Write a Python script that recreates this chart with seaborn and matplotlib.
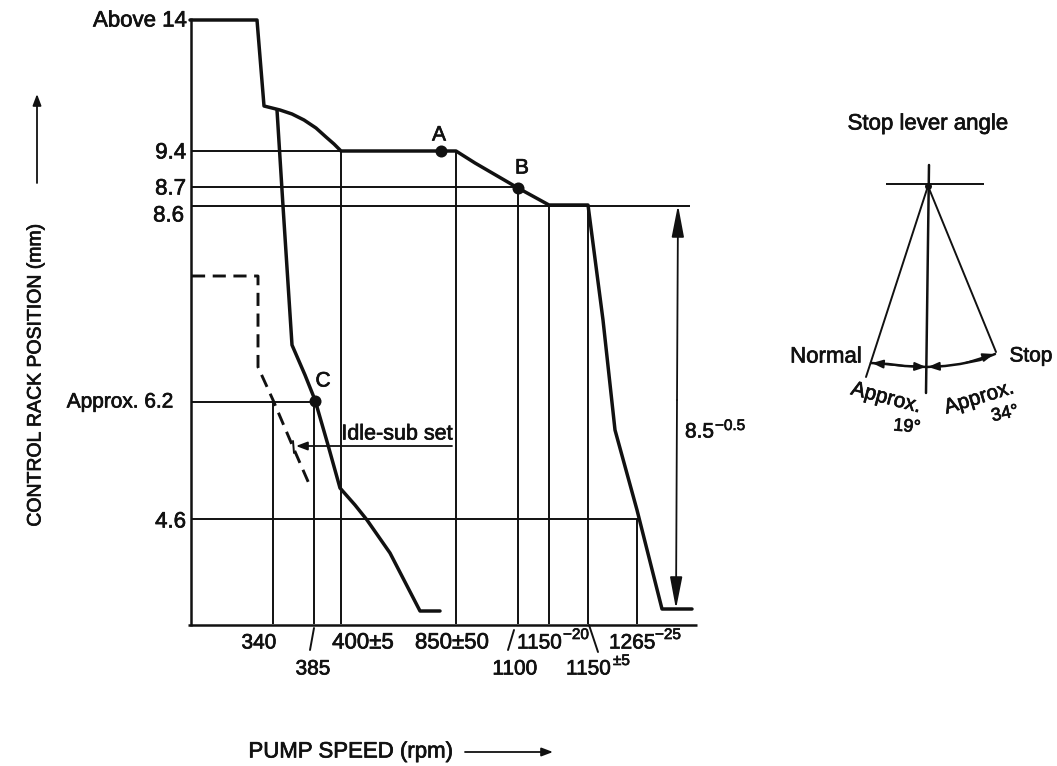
import matplotlib
matplotlib.use("Agg")
import matplotlib.pyplot as plt
import matplotlib.patheffects as pe
import seaborn as sns

# values; the speed axis is not linear so curves stay in picture units
main_x = [190, 257, 264, 280, 292, 304, 316, 326, 334, 341, 456, 475, 518, 549, 588, 603, 615, 637, 662, 692]
main_y = [20, 20, 106, 110, 114, 120, 128, 137, 144, 151, 151, 163, 188, 205, 205, 320, 430, 510, 609, 609]
idle_x = [277, 283, 292, 305, 315, 328, 340, 355, 367, 390, 405, 420, 440]
idle_y = [110, 206, 345, 375, 400, 445, 488, 505, 520, 553, 582, 611, 611]
sub_x = [192, 258, 258, 273, 293, 310]
sub_y = [276, 276, 367, 400, 447, 486]

hline_y = [151, 187, 206, 402, 519]
hline_end = [341, 517, 690, 315, 638]
vline_x = [273, 314, 341, 456, 518, 549, 588, 637]
vline_top = [400, 400, 151, 151, 188, 205, 205, 519]

point_x = [441, 518, 315]
point_y = [151, 188, 401]
point_names = ["A", "B", "C"]
name_x = [439, 522, 323]
name_y = [135, 168, 381]

y_labels = ["Above 14", "9.4", "8.7", "8.6", "Approx. 6.2", "4.6"]
y_label_x = [187, 186, 186, 184, 173, 186]
y_label_y = [21, 153, 189, 216, 402, 522]
y_label_size = [16, 16, 16, 16, 15, 16]

x_labels = ["340", "385", "400±5", "850±50", "1100"]
x_label_x = [259, 313, 363, 452, 515]
x_label_y = [643, 669, 643, 643, 669]
x_label_size = [15, 15, 16, 16, 15]

# stop lever sketch
arc_x = [871, 888, 905, 927, 945, 960, 980, 995]
arc_y = [363, 364, 366, 367, 366, 364, 360, 354]
lever_left_x = [928, 866]
lever_left_y = [186, 377]
lever_right_x = [928, 996]
lever_right_y = [186, 352]

sns.set_theme(style="white")
plt.rcParams["font.family"] = ["Liberation Sans", "DejaVu Sans"]

fig = plt.figure(figsize=(10.57, 7.66), dpi=100)
ax = fig.add_axes([0, 0, 1, 1])
ax.set_xlim(0, 1057)
ax.set_ylim(766, 0)
ax.axis("off")

ink = "#111111"
thick = 2.5
thin = 1.4
heavy_text = [pe.withStroke(linewidth=0.5, foreground=ink)]


def draw(x, y, lw, **kw):
    sns.lineplot(x=x, y=y, ax=ax, color=ink, linewidth=lw, sort=False,
                 estimator=None, errorbar=None, legend=False, **kw)


def arrow(start, end, lw=1.3, head="-|>,head_length=0.45,head_width=0.17", scale=15):
    ax.annotate("", xy=end, xytext=start,
                arrowprops=dict(arrowstyle=head, color=ink, lw=lw,
                                mutation_scale=scale, shrinkA=0, shrinkB=0))


def label(x, y, s, size=16, ha="center", rotation=0):
    ax.text(x, y, s, fontsize=size, ha=ha, va="center", rotation=rotation,
            color=ink, path_effects=heavy_text)


# axes of the diagram
ax.vlines(191, 18, 626, color=ink, linewidth=1.8)
ax.hlines(624.5, 188, 697, color=ink, linewidth=1.8)

ax.hlines(hline_y, 191, hline_end, color=ink, linewidth=thin)
ax.vlines(vline_x, vline_top, 624, color=ink, linewidth=thin)

draw(main_x, main_y, thick)
draw(idle_x, idle_y, thick)
draw(sub_x, sub_y, 2.1, linestyle=(0, (4.5, 2.6)))
sns.scatterplot(x=point_x, y=point_y, ax=ax, color=ink, s=75, linewidth=0, legend=False)

for name, x, y in zip(point_names, name_x, name_y):
    label(x, y, name, 15)
for s, x, y, size in zip(y_labels, y_label_x, y_label_y, y_label_size):
    label(x, y, s, size, ha="right")
for s, x, y, size in zip(x_labels, x_label_x, x_label_y, x_label_size):
    label(x, y, s, size)

label(517, 643, "1150", 15, ha="left")
label(563, 635, "−20", 11, ha="left")
label(609, 643, "1265", 15, ha="left")
label(655, 635, "−25", 11, ha="left")
label(566, 669, "1150", 15, ha="left")
label(613, 661, "±5", 11, ha="left")
label(685, 432, "8.5", 15, ha="left")
label(715, 426, "−0.5", 11, ha="left")

# small leaders under the speed axis
draw([314, 310], [628, 650], thin)
draw([514, 508], [630, 650], thin)
draw([589, 598], [625, 652], thin)

# idle-sub set note and dimension arrow
label(397, 434, "Idle-sub set", 15.5)
arrow((452, 446), (296, 446))
draw([293, 294], [441, 453], thin)
head_long = "-|>,head_length=1.3,head_width=0.25"
arrow((677, 400), (678, 205), head=head_long)
arrow((677, 400), (676, 609), head=head_long)

# axis titles
label(36, 375, "CONTROL RACK POSITION (mm)", 14, rotation=90)
arrow((37, 183), (37, 94))
label(351, 752, "PUMP SPEED (rpm)", 16)
arrow((465, 752), (553, 752))

# stop lever angle sketch
label(928, 124, "Stop lever angle", 16)
ax.hlines(184, 886, 984, color=ink, linewidth=thin)
draw([929, 926], [165, 393], 1.8)
draw(lever_left_x, lever_left_y, thin)
draw(lever_right_x, lever_right_y, thin)
draw(arc_x, arc_y, 1.8)
arrow((905, 366), (872, 363))
arrow((905, 366), (926, 367))
arrow((945, 366), (928, 367))
arrow((965, 363), (994, 354))
sns.scatterplot(x=[928], y=[186], ax=ax, color=ink, s=25, linewidth=0, legend=False)

label(826, 357, "Normal", 16)
label(1031, 356, "Stop", 15)
label(886, 398, "Approx.", 15, rotation=-15)
label(979, 398, "Approx.", 15, rotation=17)
label(907, 427, "19°", 13, rotation=-5)
label(1005, 414, "34°", 13, rotation=12)

fig.savefig("out.png", dpi=100)
